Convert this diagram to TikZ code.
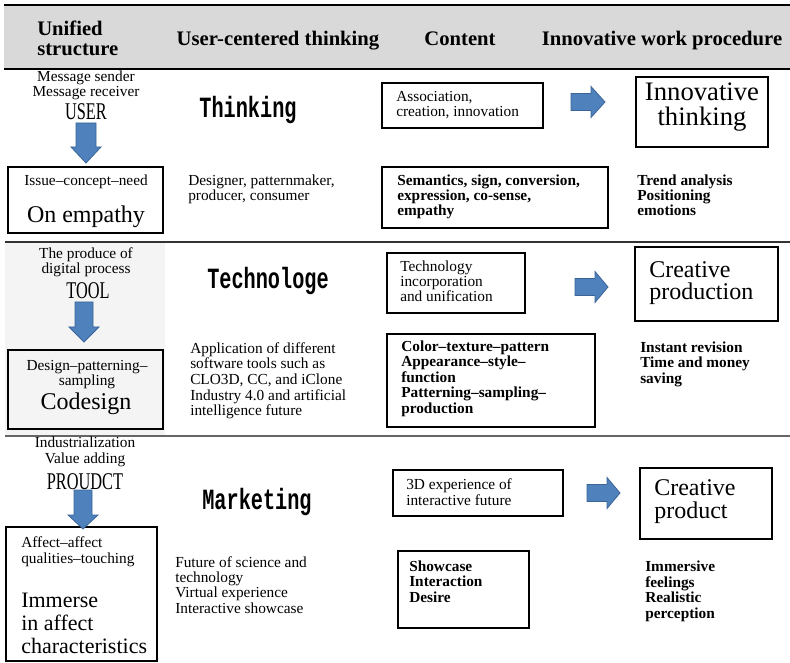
\documentclass[tikz,border=0pt]{standalone}
\usepackage{fontspec}
\setmainfont{Liberation Serif}
\newfontfamily\monofnt[FakeStretch=0.69]{Liberation Mono}
\newfontfamily\condfnt[FakeStretch=0.68]{Liberation Serif}
\usetikzlibrary{fit}

\definecolor{headgray}{HTML}{D9D9D9}
\definecolor{arrowfill}{HTML}{4F81BD}
\definecolor{arrowedge}{HTML}{3B6597}
\definecolor{panelgray}{HTML}{F4F4F4}

% Multi-line nodes are placed by the baseline of their last line.
\tikzset{
  txt/.style={inner sep=0pt, font=\fontsize{11.5}{11.4}\selectfont, align=left},
  txtc/.style={txt, align=center},
  btxt/.style={inner sep=0pt, font=\fontsize{11.5}{11.6}\selectfont\bfseries, align=left},
  head/.style={inner sep=0pt, font=\fontsize{15.5}{15}\selectfont\bfseries, align=left},
  bigtxt/.style={inner sep=0pt, font=\fontsize{18}{17.25}\selectfont, align=left},
  hugetxt/.style={inner sep=0pt, font=\fontsize{20}{19}\selectfont, align=center},
  monotxt/.style={inner sep=0pt, font=\monofnt\fontsize{22}{22}\selectfont\bfseries},
  condtxt/.style={inner sep=0pt, font=\condfnt\fontsize{18}{18}\selectfont},
  framebox/.style={draw=black, line width=1.2pt, inner sep=0pt},
  blockarrow/.style={fill=arrowfill, draw=arrowedge, line width=0.6pt, line join=miter},
}

\begin{document}
\begin{tikzpicture}[x=0.75pt,y=-0.75pt]
\useasboundingbox (0,0) rectangle (790,663);
\fill[white] (0,0) rectangle (790,663);

% ---- header band ----
\fill[headgray] (4,5) rectangle (790,69);
\draw[line width=1.5pt] (4,5) -- (790,5);
\draw[line width=1.8pt] (4,69) -- (790,69);

\node[head, anchor=base west] (hUnified) at (37,56) {Unified\\structure};
\node[head, anchor=base] (hUser) at (278,46) {User-centered thinking};
\node[head, anchor=base] (hContent) at (460,46) {Content};
\node[head, anchor=base] (hProc) at (662,46) {Innovative work procedure};

% ---- band separators ----
\fill[panelgray] (5,243) rectangle (165,435);
\draw[line width=1.1pt, black!80] (5,242) -- (790,242);
\draw[line width=1.1pt, black!60] (5,436) -- (790,436);

% ================= band 1: USER / Thinking =================
\node[txtc, anchor=base] (msg) at (86,97) {Message sender\\Message receiver};
\node[condtxt, anchor=base] (user) at (86,120) {USER};
\node[framebox, fit={(8,167) (163,233)}] (empathy) {};
\node[txtc, anchor=base] (issue) at (86,186) {Issue–concept–need};
\node[bigtxt, anchor=base] (onemp) at (86,223) {On empathy};
\coordinate (ua) at (86,123);
\draw[blockarrow, shift={(ua)}] (-10,0) -- (10,0) -- (10,24) -- (15,24) -- (0,40) -- (-15,24) -- (-10,24) -- cycle;

\node[monotxt, anchor=base] (thinking) at (248,118) {Thinking};
\node[txt, anchor=base west] (roles) at (188,201) {Designer, patternmaker,\\producer, consumer};

\node[framebox, fit={(382,83) (543,128)}] (assoc) {};
\node[txt, anchor=base west] (assoctxt) at (396,117) {Association,\\creation, innovation};
\coordinate (ra) at (571,102);
\draw[blockarrow, shift={(ra)}] (0,-8.5) -- (20,-8.5) -- (20,-15.5) -- (34,0) -- (20,15.5) -- (20,8.5) -- (0,8.5) -- cycle;
\node[framebox, fit={(636,77) (768,147)}] (innov) {};
\node[hugetxt, anchor=base] (innovtxt) at (702,126) {Innovative\\thinking};

\node[framebox, fit={(382,167) (608,228)}] (sem) {};
\node[btxt, anchor=base west] (semtxt) at (397,216) {Semantics, sign, conversion,\\expression, co-sense,\\empathy};
\node[btxt, anchor=base west] (trend) at (637,216) {Trend analysis\\Positioning\\emotions};

% ================= band 2: TOOL / Technologe =================
\node[txtc, anchor=base] (digital) at (86,274) {The produce of\\digital process};
\node[condtxt, anchor=base] (tool) at (88,299) {TOOL};
\node[framebox, fit={(8,350) (163,429)}] (codes) {};
\node[txtc, anchor=base] (dps) at (87,386) {Design–patterning–\\sampling};
\node[bigtxt, anchor=base] (codesign) at (86,409) {Codesign};
\coordinate (ta) at (84,302);
\draw[blockarrow, shift={(ta)}] (-9,0) -- (9,0) -- (9,25) -- (15,25) -- (0,40) -- (-15,25) -- (-9,25) -- cycle;

\node[monotxt, anchor=base] (techno) at (268,289) {Technologe};
\node[txt, anchor=base west, font=\fontsize{11.5}{11.8}\selectfont] (software) at (190,416)
  {Application of different\\software tools such as\\CLO3D, CC, and iClone\\Industry 4.0 and artificial\\intelligence future};

\node[framebox, fit={(387,253) (525,313)}] (techbox) {};
\node[txt, anchor=base west] (techtxt) at (400,302) {Technology\\incorporation\\and unification};
\coordinate (rb) at (575,287);
\draw[blockarrow, shift={(rb)}] (0,-8.5) -- (20,-8.5) -- (20,-15.5) -- (33,0) -- (20,15.5) -- (20,8.5) -- (0,8.5) -- cycle;
\node[framebox, fit={(635,247) (778,321)}] (cprod) {};
\node[bigtxt, anchor=base west, font=\fontsize{18}{16.5}\selectfont] (cprodtxt) at (649,300) {Creative\\production};

\node[framebox, fit={(387,334) (595,427)}] (colorbox) {};
\node[btxt, anchor=base west] (colortxt) at (401,413)
  {Color–texture–pattern\\Appearance–style–\\function\\Patterning–sampling–\\production};
\node[btxt, anchor=base west] (instant) at (640,383) {Instant revision\\Time and money\\saving};

% ================= band 3: PROUDCT / Marketing =================
\node[txtc, anchor=base] (indus) at (85,463) {Industrialization\\Value adding};
\node[condtxt, anchor=base] (product) at (85,489) {PROUDCT};
\node[framebox, fit={(6,527) (157,661)}] (affect) {};
\node[txt, anchor=base west] (affecttxt) at (21,563) {Affect–affect\\qualities–touching};
\node[bigtxt, anchor=base west, font=\fontsize{16.5}{17.25}\selectfont] (immerse) at (21,653) {Immerse\\in affect\\characteristics};
\coordinate (pa) at (83,490);
\draw[blockarrow, shift={(pa)}] (-9,0) -- (9,0) -- (9,25) -- (15,25) -- (0,39) -- (-15,25) -- (-9,25) -- cycle;

\node[monotxt, anchor=base] (marketing) at (257,509) {Marketing};
\node[txt, anchor=base west] (future) at (175,613)
  {Future of science and\\technology\\Virtual experience\\Interactive showcase};

\node[framebox, fit={(393,470) (563,516)}] (exp3d) {};
\node[txt, anchor=base west] (exp3dtxt) at (406,505) {3D experience of\\interactive future};
\coordinate (rc) at (587,493);
\draw[blockarrow, shift={(rc)}] (0,-8.5) -- (20,-8.5) -- (20,-15.5) -- (33,0) -- (20,15.5) -- (20,8.5) -- (0,8.5) -- cycle;
\node[framebox, fit={(640,468) (772,539)}] (cproduct) {};
\node[bigtxt, anchor=base west] (cproducttxt) at (654,518) {Creative\\product};

\node[framebox, fit={(398,551) (529,628)}] (show) {};
\node[btxt, anchor=base west] (showtxt) at (409,602) {Showcase\\Interaction\\Desire};
\node[btxt, anchor=base west] (immersive) at (645,618) {Immersive\\feelings\\Realistic\\perception};

\end{tikzpicture}
\end{document}
